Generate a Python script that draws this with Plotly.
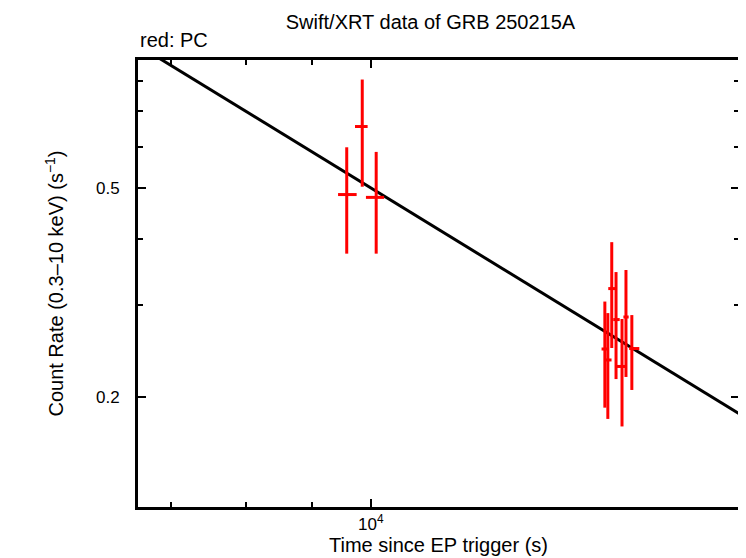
import plotly.graph_objects as go

# ---------------- data ----------------
# PC mode bins: time (s), bin start / end, count rate and its limits
time = [9578, 9847, 10095,
        15182, 15263, 15370, 15488, 15654, 15765, 15931]
time_start = [9431, 9720, 9912,
              15093, 15201, 15275, 15411, 15510, 15693, 15856]
time_end = [9749, 9942, 10239,
            15269, 15364, 15482, 15590, 15749, 15841, 16145]
rate = [0.486, 0.655, 0.480,
        0.2468, 0.2352, 0.3217, 0.2808, 0.2286, 0.2840, 0.2473]
rate_low = [0.375, 0.503, 0.375,
            0.1908, 0.1816, 0.2479, 0.2163, 0.1757, 0.2183, 0.2062]
rate_high = [0.598, 0.805, 0.586,
             0.3039, 0.2889, 0.3944, 0.3459, 0.2815, 0.3490, 0.2864]

# power-law model line (two ends, straight in log-log)
model_t = [6000, 20000]
model_rate = [1.08, 0.176]

x_major = [10000]
x_major_text = ["10<sup>4</sup>"]
x_minor = [7000, 8000, 9000]
y_major = [0.2, 0.5]
y_major_text = ["0.2", "0.5"]
y_minor = [0.3, 0.4, 0.6, 0.7, 0.8]

FONT = "Liberation Sans, Arial, sans-serif"

fig = go.Figure()

fig.add_trace(go.Scatter(
    x=model_t, y=model_rate, mode="lines",
    line=dict(color="black", width=3), hoverinfo="skip", showlegend=False))

fig.add_trace(go.Scatter(
    x=time, y=rate, mode="markers",
    marker=dict(size=0.1, color="red", opacity=0),
    error_x=dict(type="data", symmetric=False,
                 array=[e - t for e, t in zip(time_end, time)],
                 arrayminus=[t - s for t, s in zip(time, time_start)],
                 color="red", thickness=3, width=0),
    error_y=dict(type="data", symmetric=False,
                 array=[h - r for h, r in zip(rate_high, rate)],
                 arrayminus=[r - l for r, l in zip(rate, rate_low)],
                 color="red", thickness=3, width=0),
    showlegend=False))

fig.update_xaxes(
    type="log", range=[3.8195, 4.2853],
    tickmode="array", tickvals=x_major, ticktext=x_major_text,
    ticks="inside", ticklen=8, tickwidth=2, tickcolor="black",
    minor=dict(tickmode="array", tickvals=x_minor, ticks="inside",
               ticklen=5, tickwidth=2, tickcolor="black"),
    showline=True, linewidth=3, linecolor="black", mirror="allticks",
    showgrid=False, zeroline=False,
    tickfont=dict(family=FONT, size=17, color="black"),
    title=dict(text="Time since EP trigger (s)",
               font=dict(family=FONT, size=20, color="black"), standoff=2))

fig.update_yaxes(
    type="log", range=[-0.9087, -0.0570],
    tickmode="array", tickvals=y_major, ticktext=y_major_text,
    ticks="inside", ticklen=8, tickwidth=2, tickcolor="black",
    minor=dict(tickmode="array", tickvals=y_minor, ticks="inside",
               ticklen=5, tickwidth=2, tickcolor="black"),
    showline=True, linewidth=3, linecolor="black", mirror="allticks",
    showgrid=False, zeroline=False, ticklabelstandoff=12,
    tickfont=dict(family=FONT, size=17, color="black"),
    title=dict(text="Count Rate (0.3\u201310 keV) (s<sup>\u22121</sup>)",
               font=dict(family=FONT, size=20, color="black"), standoff=27))

# the page body adds an 8px margin, so the figure is 8px smaller
fig.update_layout(
    width=738, height=550,
    margin=dict(l=130, r=4, t=52, b=51),
    paper_bgcolor="white", plot_bgcolor="white",
    title=dict(text="Swift/XRT data of GRB 250215A",
               font=dict(family=FONT, size=20, color="black"),
               x=422.5 / 738, xanchor="center", y=1 - 14 / 550, yanchor="middle"),
    annotations=[dict(text="red: PC", xref="paper", yref="paper",
                      x=0, xanchor="left", y=1 + 20 / 447, yanchor="middle",
                      showarrow=False,
                      font=dict(family=FONT, size=20, color="black"))],
)

fig.write_html("out.html")
